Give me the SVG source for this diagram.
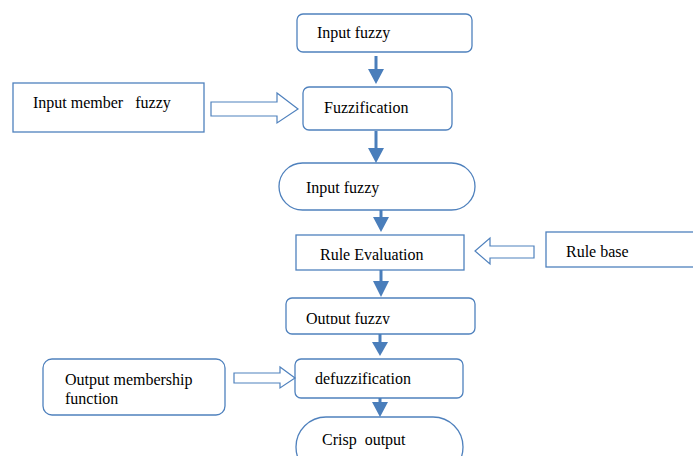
<svg xmlns="http://www.w3.org/2000/svg" width="693" height="456" viewBox="0 0 693 456">
<style>
.box{fill:#fff;stroke:#4f81bd;stroke-width:1.3}
.t{font-family:"Liberation Serif","Times New Roman",serif;font-size:16px;fill:#000}
.sh{stroke:#4a7ebb;stroke-width:3;fill:none}
.hd{fill:#4a7ebb;stroke:none}
.blk{fill:#fff;stroke:#4f81bd;stroke-width:1.2}
</style>
<defs>
<clipPath id="clipOut"><rect x="280" y="290" width="200" height="34"/></clipPath>
</defs>
<rect width="693" height="456" fill="#fff"/>
<g id="n-input-fuzzy-1">
<rect class="box" x="297" y="14" width="175" height="38" rx="6"/>
<text class="t" x="317" y="38">Input fuzzy</text>
</g>
<g id="n-input-member">
<rect class="box" x="13" y="83" width="191" height="49"/>
<text class="t" x="33" y="108" xml:space="preserve">Input member   fuzzy</text>
</g>
<g id="n-fuzzification">
<rect class="box" x="303" y="87" width="149" height="43" rx="6"/>
<text class="t" x="324" y="113">Fuzzification</text>
</g>
<g id="n-input-fuzzy-2">
<rect class="box" x="279" y="163" width="196" height="47" rx="23.5"/>
<text class="t" x="306" y="193">Input fuzzy</text>
</g>
<g id="n-rule-evaluation">
<rect class="box" x="296" y="235" width="168" height="35"/>
<text class="t" x="320" y="260">Rule Evaluation</text>
</g>
<g id="n-rule-base">
<rect class="box" x="546" y="232" width="150" height="35"/>
<text class="t" x="566" y="257">Rule base</text>
</g>
<g id="n-output-fuzzy">
<rect class="box" x="286" y="298" width="189" height="36" rx="6"/>
<text class="t" x="306" y="324" clip-path="url(#clipOut)">Output fuzzy</text>
</g>
<g id="n-output-membership">
<rect class="box" x="43" y="359" width="182" height="56" rx="9"/>
<text class="t" x="65" y="385">Output membership</text>
<text class="t" x="65" y="404">function</text>
</g>
<g id="n-defuzzification">
<rect class="box" x="295" y="359" width="168" height="39" rx="6"/>
<text class="t" x="315" y="384">defuzzification</text>
</g>
<g id="n-crisp-output">
<rect class="box" x="296" y="417" width="167" height="60" rx="30"/>
<text class="t" x="322" y="445" xml:space="preserve">Crisp  output</text>
</g>
<g id="connectors">
<line class="sh" x1="376" y1="56" x2="376" y2="70"/>
<polygon class="hd" points="368,69 384,69 376,84"/>
<line class="sh" x1="376" y1="131" x2="376" y2="149"/>
<polygon class="hd" points="368,148 384,148 376,163"/>
<line class="sh" x1="381" y1="210" x2="381" y2="218"/>
<polygon class="hd" points="373,217 389,217 381,232"/>
<line class="sh" x1="381" y1="270" x2="381" y2="282"/>
<polygon class="hd" points="373,281 389,281 381,297"/>
<line class="sh" x1="380" y1="334" x2="380" y2="343"/>
<polygon class="hd" points="372,342 388,342 380,356"/>
<line class="sh" x1="380" y1="398" x2="380" y2="403"/>
<polygon class="hd" points="372,402 388,402 380,417"/>
<polygon class="blk" points="211,102 277,102 277,93 298,109 277,123 277,116 211,116"/>
<polygon class="blk" points="534,246 490,246 490,238 475,251 490,264 490,258 534,258"/>
<polygon class="blk" points="234,373 280,373 280,367 295,378 280,388 280,383 234,383"/>
</g>
</svg>
